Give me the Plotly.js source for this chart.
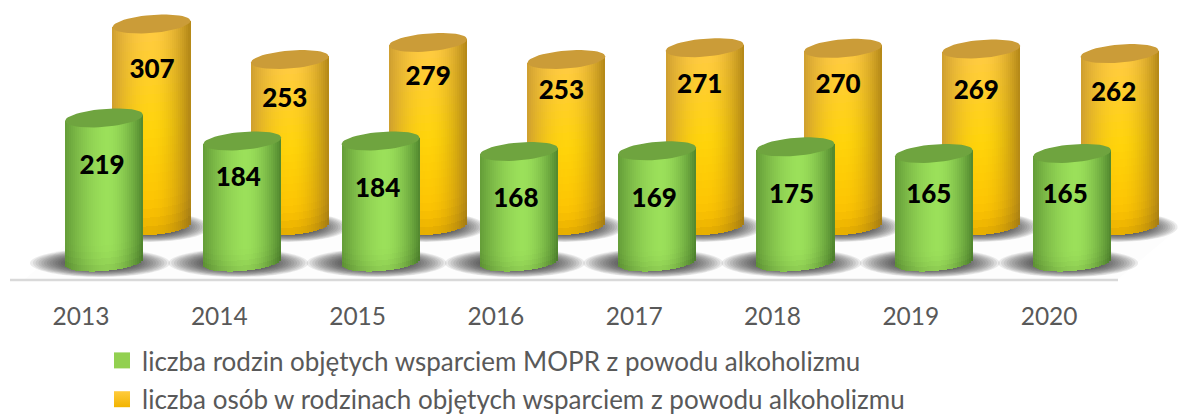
<!DOCTYPE html>
<html><head><meta charset="utf-8">
<script src="https://cdn.plot.ly/plotly-3.0.1.min.js"></script>
<style>html,body{margin:0;padding:0;background:#fff;overflow:hidden}</style>
</head><body><div id="chart" style="width:1179px;height:416px"></div>
<script>
const years = ['2013','2014','2015','2016','2017','2018','2019','2020'];
const families = [219,184,184,168,169,175,165,165];
const persons = [307,253,279,253,271,270,269,262];
const familiesName = 'liczba rodzin objętych wsparciem MOPR z powodu alkoholizmu';
const personsName = 'liczba osób w rodzinach objętych wsparciem z powodu alkoholizmu';

// label placement relative to the top of each cylinder (screen pixels)
const familiesLabelDrop = [49.5,38.5,49.5,49,49.5,49.5,43.5,43.5];
const familiesLabelShift = [-2,-4,-3,-3,-3,-4,-5,-7];
const personsLabelDrop = [47.5,41,36,33,38.5,38.5,43.5,41];
const personsLabelShift = [0.5,-5,0,-5,-5,-5,-5,-6];

const PLOT_H = 286, STEP = 138.3, X0 = 81, SCALE = 0.658, FLOOR = 262;
const X = px => (px - X0) / STEP;
const Y = py => (FLOOR - py) / SCALE;
const RX = 39, RY = 9, TILT = 0.08, STRIPS = 39;

const clamp = c => Math.max(0, Math.min(255, Math.round(c)));
const mix = (a, b, t) => a.map((v, i) => v + (b[i] - v) * t);
const bottomShade = t => t > 0.8 ? 1 - 0.1 * Math.pow((t - 0.8) / 0.2, 2) : 1;
function greenColor(h, t) {
  const d = Math.abs(h - 0.55) / (h < 0.55 ? 0.55 : 0.45);
  const edge = h < 0.55 ? [100,156,56] : [80,134,46];
  const c = mix([155,224,90], edge, Math.pow(d, 1.7)).map(v => v * bottomShade(t));
  return 'rgb(' + c.map(clamp).join(',') + ')';
}
function orangeColor(h, t) {
  const top = [255,202,70], mid = [255,212,10], bot = [252,190,0];
  const core = t < 0.5 ? mix(top, mid, t / 0.5) : mix(mid, bot, (t - 0.5) / 0.5);
  const d = Math.abs(h - 0.5) / 0.5;
  const edge = h < 0.5 ? [206,158,48] : [178,134,22];
  const c = mix(core, edge, Math.pow(d, 2)).map(v => v * bottomShade(t));
  return 'rgb(' + c.map(clamp).join(',') + ')';
}

function cylinderTrace(values, offsetPx, depth, colorFn, segs) {
  const xs = [], base = [], hs = [], colors = [], w = [];
  const sw = (2 * RX / STRIPS) / STEP;
  values.forEach((val, i) => {
    const cx = X0 + i * STEP + offsetPx;
    for (let s = 0; s < STRIPS; s++) {
      const h = (s + 0.5) / STRIPS, dx = (h - 0.5) * 2 * RX;
      const arc = RY * Math.sqrt(1 - (dx / RX) * (dx / RX));
      const bottom = depth - (arc - TILT * dx) / SCALE;
      const top = depth + val + (TILT * dx) / SCALE;
      const seg = (top - bottom) / segs;
      for (let k = 0; k < segs; k++) {
        xs.push(X(cx + dx));
        w.push(sw * 1.02);
        base.push(top - (k + 1) * seg);
        hs.push(seg);
        colors.push(colorFn(h, (k + 0.5) / segs));
      }
    }
  });
  return {type:'bar', x:xs, y:hs, base:base, width:w, marker:{color:colors, line:{width:0}},
          showlegend:false, hoverinfo:'skip', cliponaxis:false};
}
function capTrace(values, offsetPx, depth, color) {
  const xs = [], ys = [];
  values.forEach((val, i) => {
    const cx = X0 + i * STEP + offsetPx;
    for (let a = 0; a <= 48; a++) {
      const th = a / 48 * 2 * Math.PI, dx = RX * Math.cos(th);
      xs.push(X(cx + dx));
      ys.push(depth + val + (TILT * dx + RY * Math.sin(th)) / SCALE);
    }
    xs.push(null); ys.push(null);
  });
  return {type:'scatter', mode:'lines', x:xs, y:ys, fill:'toself', fillcolor:color,
          line:{width:0, color:color}, showlegend:false, hoverinfo:'skip'};
}
function labelTrace(values, offsetPx, depth, drops, shifts) {
  return {type:'scatter', mode:'text',
    x:values.map((v, i) => X(X0 + i * STEP + offsetPx + shifts[i])),
    y:values.map((v, i) => depth + v - drops[i] / SCALE),
    text:values.map(String), textposition:'middle center',
    textfont:{family:'Lato, Carlito, sans-serif', size:26, color:'#000', weight:900},
    showlegend:false, hoverinfo:'skip'};
}
function shadowShapes(values, offsetPx, cy, rx, ry) {
  const out = [];
  values.forEach((v, i) => {
    const cx = X0 + i * STEP + offsetPx;
    for (let k = 0; k < 14; k++) {
      const f = 1 - k * 0.04;
      out.push({type:'circle', layer:'below', xref:'x', yref:'y',
        x0:X(cx - rx * f), x1:X(cx + rx * f), y0:Y(cy + ry * f), y1:Y(cy - ry * f),
        fillcolor:'#222', opacity:0.085, line:{width:0}});
    }
  });
  return out;
}

const GREEN_OFF = 23, ORANGE_OFF = 70.5, DEPTH = 36 / SCALE;
const traces = [
  cylinderTrace(persons, ORANGE_OFF, DEPTH, orangeColor, 24),
  cylinderTrace(families, GREEN_OFF, 0, greenColor, 24),
  capTrace(persons, ORANGE_OFF, DEPTH, '#CB9C38'),
  capTrace(families, GREEN_OFF, 0, '#6FA43F'),
  labelTrace(persons, ORANGE_OFF, DEPTH, personsLabelDrop, personsLabelShift),
  labelTrace(families, GREEN_OFF, 0, familiesLabelDrop, familiesLabelShift),
  {type:'scatter', mode:'markers', x:[-5], y:[-900], name:familiesName, legendgroup:'a',
   marker:{symbol:'square', size:16, color:'#92D050'}, hoverinfo:'skip'},
  {type:'scatter', mode:'markers', x:[-5], y:[-900], name:personsName, legendgroup:'b',
   marker:{symbol:'square', size:16, color:'#FFCB3C', gradient:{type:'vertical', color:'#F2B400'}}, hoverinfo:'skip'}
];

const floorPath = 'M' + X(25) + ',' + Y(279) + ' L' + X(85) + ',' + Y(228) +
  ' L' + X(1179) + ',' + Y(228) + ' L' + X(1118) + ',' + Y(279) + ' Z';
const shapes = [
  {type:'path', layer:'below', xref:'x', yref:'y', path:floorPath, fillcolor:'#FDFDFD', line:{width:0}},
  {type:'line', layer:'below', xref:'x', yref:'y', x0:X(10), x1:X(1118), y0:Y(280), y1:Y(280),
   line:{color:'#D9D9D9', width:2.5}},
  ...shadowShapes(persons, ORANGE_OFF - 2, 227, 60, 15),
  ...shadowShapes(families, GREEN_OFF - 4, 263, 70, 14)
];

const layout = {
  width:1179, height:416, paper_bgcolor:'#fff', plot_bgcolor:'#fff',
  margin:{l:0, r:0, t:0, b:416 - PLOT_H, pad:0, autoexpand:false},
  barmode:'overlay', bargap:0, showlegend:true,
  font:{family:'Lato, Carlito, sans-serif', color:'#595959'},
  xaxis:{type:'linear', range:[X(0), X(1179)], tickmode:'array', tickvals:years.map((y, i) => i), ticktext:years,
         showgrid:false, zeroline:false, showline:false, ticks:'', tickfont:{size:24.5, color:'#595959'},
         ticklabelstandoff:13, fixedrange:true},
  yaxis:{range:[Y(PLOT_H), Y(0)], visible:false, fixedrange:true},
  legend:{x:102 / 1179, xanchor:'left', y:-51 / PLOT_H, yanchor:'top', traceorder:'grouped', tracegroupgap:2,
          font:{size:26, color:'#595959'}, bgcolor:'rgba(0,0,0,0)'},
  shapes:shapes
};
Plotly.newPlot('chart', traces, layout, {staticPlot:true, displayModeBar:false});
</script></body></html>
